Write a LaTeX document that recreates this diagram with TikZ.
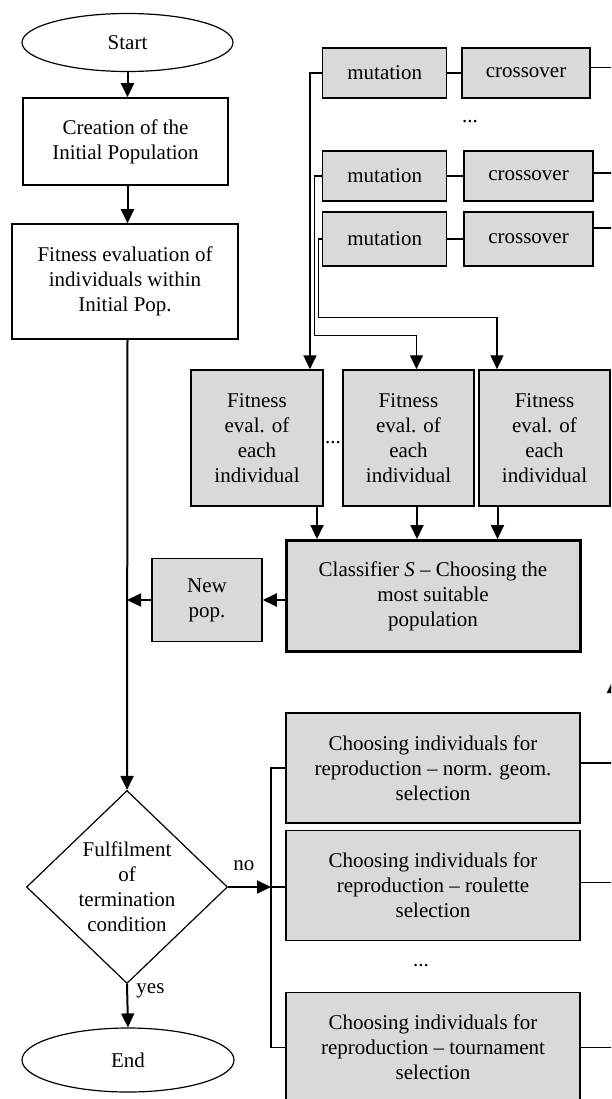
\documentclass[tikz,border=0pt]{standalone}
\usepackage{fontspec}
\setmainfont{Liberation Serif}
\usetikzlibrary{shapes.geometric, arrows.meta, positioning, calc}
\definecolor{boxgray}{RGB}{217, 217, 217}

\begin{document}
\begin{tikzpicture}[x=1pt, y=-1pt,
  every node/.style={font=\fontsize{21}{25}\selectfont, align=center},
  grayblock/.style={draw, line width=1.5pt, fill=boxgray, inner sep=0pt},
  whiteblock/.style={draw, line width=1.5pt, fill=white, inner sep=0pt},
  opblock/.style={grayblock, minimum height=50pt},
  fitblock/.style={grayblock, minimum width=131pt, minimum height=136pt},
  selblock/.style={grayblock, minimum width=294pt, minimum height=110pt},
  terminal/.style={draw, ellipse, line width=1.2pt, inner sep=0pt},
  decision/.style={draw, diamond, line width=1.2pt, inner sep=0pt},
  flow/.style={line width=2pt, -{Triangle[length=14pt, width=13pt]}},
  thinflow/.style={line width=1.2pt, -{Triangle[length=14pt, width=13pt]}},
  link/.style={line width=1.2pt}]
  \useasboundingbox (0,0) rectangle (611,1099);
  \clip (0,0) rectangle (611,1099);

  % main column
  \node[terminal, minimum width=211pt, minimum height=58pt] (start) at (127.5,42.5) {Start};
  \node[whiteblock, minimum width=205pt, minimum height=87pt] (create) at (125.5,141.5) {Creation of the\\Initial Population};
  \node[whiteblock, minimum width=226pt, minimum height=115pt] (initfit) at (125,281.5) {Fitness evaluation of\\individuals within\\Initial Pop.};
  \node[decision, minimum width=201pt, minimum height=193pt] (cond) at (127,887) {Fulfilment\\of\\termination\\condition};
  \node[terminal, minimum width=212pt, minimum height=64pt] (end) at (128,1060) {End};

  % genetic operators
  \node[opblock, minimum width=124pt] (mut1) at (384.7,73) {mutation};
  \node[opblock, minimum width=128pt] (cross1) at (526,73) {crossover};
  \node[anchor=base] (dotsop) at (470,123) {...};
  \node[opblock, minimum width=124pt] (mut2) at (384.7,176) {mutation};
  \node[opblock, minimum width=129pt] (cross2) at (528.5,176) {crossover};
  \node[opblock, minimum width=124pt, minimum height=54pt] (mut3) at (384.7,239) {mutation};
  \node[opblock, minimum width=129pt, minimum height=54pt] (cross3) at (528.5,239) {crossover};

  % fitness of offspring
  \node[fitblock, minimum width=132pt] (fit1) at (257,438) {Fitness\\eval. of\\each\\individual};
  \node[anchor=base] (dotsfit) at (333,443) {...};
  \node[fitblock] (fit2) at (408.5,438) {Fitness\\eval. of\\each\\individual};
  \node[fitblock] (fit3) at (544.5,438) {Fitness\\eval. of\\each\\individual};

  \node[grayblock, line width=3pt, minimum width=294pt, minimum height=111pt] (classifier) at (433,596) {Classifier \textit{S} -- Choosing the\\most suitable\\population};
  \node[grayblock, minimum width=110pt, minimum height=83pt] (newpop) at (207,600) {New\\pop.};

  % selection
  \node[selblock] (sel1) at (433,768) {Choosing individuals for\\reproduction -- norm. geom.\\selection};
  \node[selblock] (sel2) at (433,885.5) {Choosing individuals for\\reproduction -- roulette\\selection};
  \node[anchor=base] (dotssel) at (421,966) {...};
  \node[selblock] (sel3) at (433,1047.5) {Choosing individuals for\\reproduction -- tournament\\selection};

  % connectors of the main column
  \draw[flow] (start.south) -- (start.south |- create.north);
  \draw[flow] (create.south -| start.south) -- (start.south |- initfit.north);
  \draw[flow] (initfit.south -| start.south) -- (cond.north);
  \draw[flow] (cond.south) -- node[right=5pt, pos=0.15] {yes} (end.north);
  \coordinate (merge) at (newpop.west -| cond.north);
  \draw[flow] (newpop.west) -- (merge);
  \draw[flow] (classifier.west |- newpop.east) -- (newpop.east);

  % operators to fitness
  \foreach \i in {1,2,3} {
    \draw[link] (mut\i.east) -- (cross\i.west);
  }
  \coordinate (rim) at (630,0);
  \draw[link] ([yshift=5.5pt]cross1.east) -- ([yshift=5.5pt]cross1.east -| rim);
  \draw[link] ([yshift=3pt]cross2.east) -- ([yshift=3pt]cross2.east -| rim);
  \draw[link] ([yshift=11pt]cross3.east) -- ([yshift=11pt]cross3.east -| rim);

  \draw[flow] (mut1.west) -- ++(-12,0) coordinate (tap1) -- (tap1 |- fit1.north);
  \coordinate (in2) at ([xshift=8pt]fit2.north);
  \coordinate (in3) at ([xshift=-47.5pt]fit3.north);
  \draw[thinflow] (mut2.west) -- ++(-7.5,0) |- ($(in2)+(0,-34)$) -- (in2);
  \draw[thinflow] (mut3.west) -- ++(-3.5,0) |- ($(in3)+(0,-52)$) -- (in3);

  \draw[flow] ([xshift=60pt]fit1.south) -- ([xshift=60pt]fit1.south |- classifier.north);
  \draw[flow] ([xshift=8.5pt]fit2.south) -- ([xshift=8.5pt]fit2.south |- classifier.north);
  \draw[flow] ([xshift=-47pt]fit3.south) -- ([xshift=-47pt]fit3.south |- classifier.north);

  % decision to selection
  \coordinate (fork) at (271,887);
  \draw[flow] (cond.east) -- node[above=12pt, pos=0.37] {no} (fork);
  \draw[link] (sel1.west) -| (fork) |- (sel3.west);
  \draw[link] (fork) -- (fork -| sel2.west);
  \draw[link] ([yshift=5pt]sel1.east) -- ([yshift=5pt]sel1.east -| rim);
  \draw[link] ([yshift=3pt]sel2.east) -- ([yshift=3pt]sel2.east -| rim);
  \draw[link] (sel3.east) -- (sel3.east -| rim);

  % return arrow at the right border
  \coordinate (upfoot) at (613.5,740);
  \coordinate (uptip) at (613.5,679);
  \draw[flow] (upfoot) -- (uptip);
\end{tikzpicture}
\end{document}
